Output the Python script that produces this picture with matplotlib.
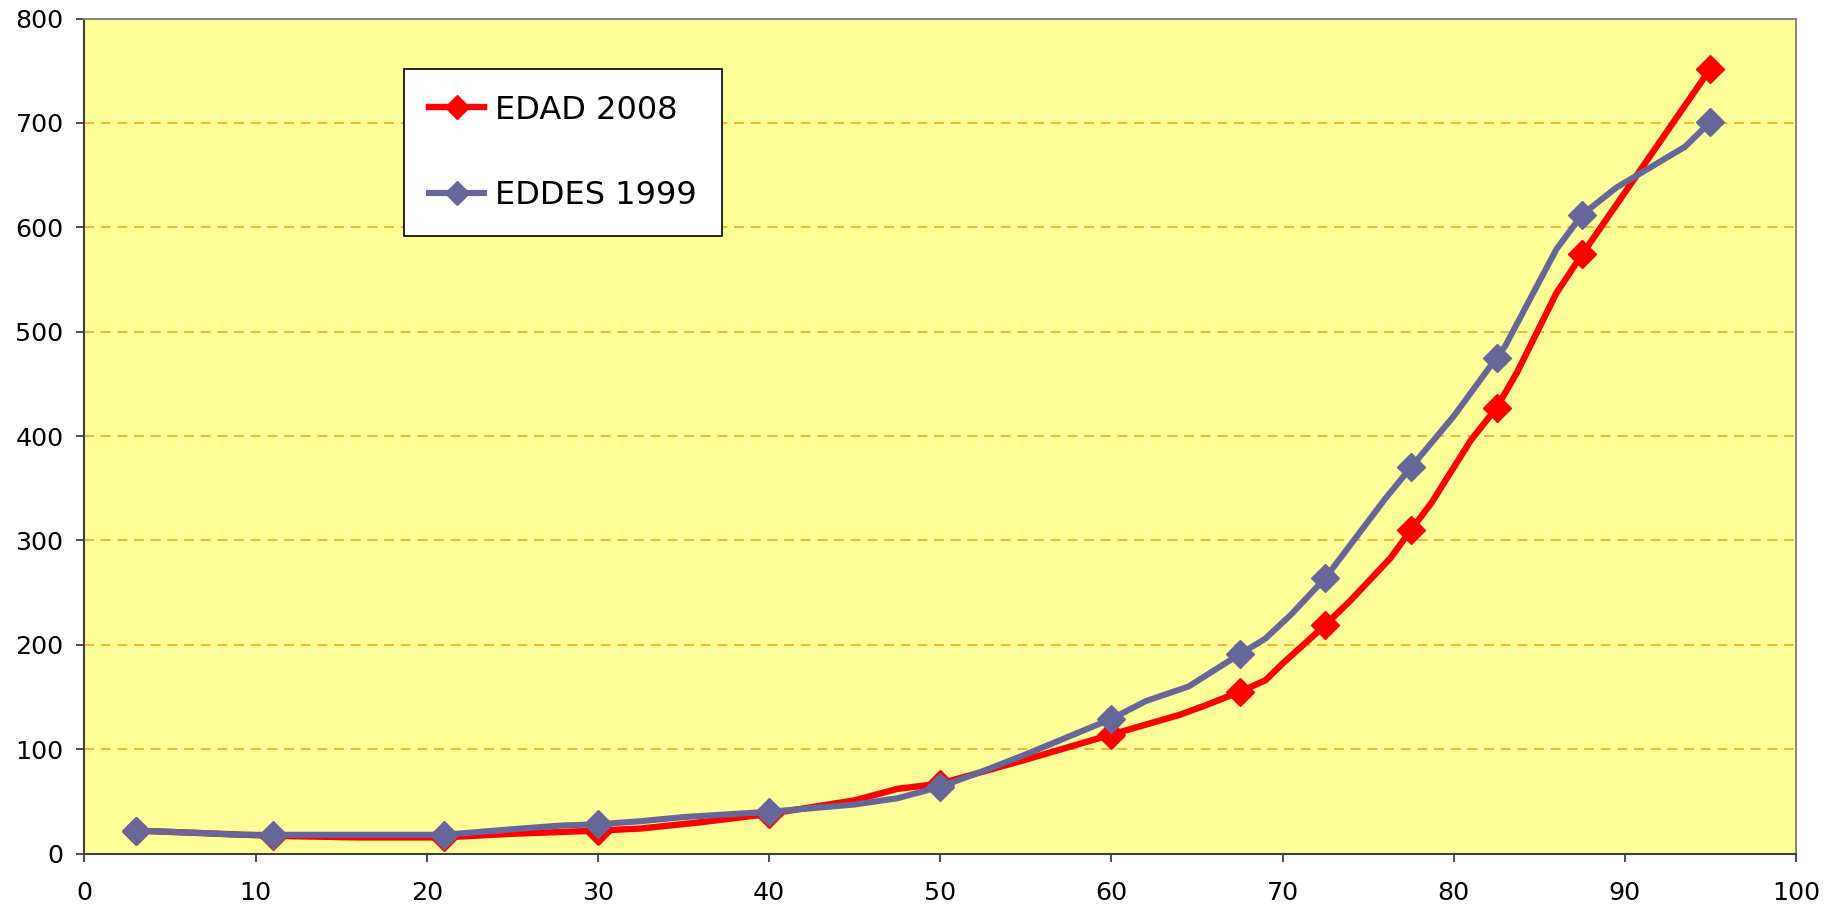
import matplotlib
matplotlib.use('Agg')
import matplotlib.pyplot as plt

# EDAD 2008 (red)
age_edad = [3, 11, 16, 21, 25, 30, 32.5, 36, 40, 45, 47.5, 50, 55, 60, 64, 65.5,
            67.5, 69, 70, 72.5, 74, 76.3, 77.5, 78.7, 81, 82.5, 83.7, 86, 87.5, 95]
val_edad = [22, 17, 15.5, 15.5, 19, 22, 24, 30, 38, 51, 62, 67, 90, 114, 133, 142,
            155, 166, 182, 219, 243, 283, 310, 336, 396, 427, 461, 537, 574, 752]

# EDDES 1999 (blue)
age_eddes = [3, 6.5, 9, 11, 21, 25.5, 28, 30, 32.5, 35, 40, 45, 47.5, 50, 52.5, 55,
             57.5, 60, 62, 64.5, 67.5, 69, 70.5, 72.5, 76, 77.5, 80, 82.5, 83, 86,
             87.5, 89.5, 93.5, 95]
val_eddes = [22, 20, 18, 18, 18, 24, 27, 28, 31, 35, 40, 47, 53, 64, 79, 95,
             112, 129, 146, 160, 191, 206, 229, 264, 340, 370, 419, 475, 486, 579,
             612, 638, 677, 701]

# ages that carry a marker
marked_ages = [3, 11, 21, 30, 40, 50, 60, 67.5, 72.5, 77.5, 82.5, 87.5, 95]

x_ticks = [0, 10, 20, 30, 40, 50, 60, 70, 80, 90, 100]
y_ticks = [0, 100, 200, 300, 400, 500, 600, 700, 800]

fig = plt.figure(figsize=(18.26, 9.07), dpi=100)
ax = fig.add_axes([0.0462, 0.0589, 0.9374, 0.9207])
ax.set_facecolor('#FFFF99')

ax.plot(age_edad, val_edad, color='#FF0000', lw=4.6, marker='D', ms=14.5,
        markevery=[age_edad.index(a) for a in marked_ages],
        label='EDAD 2008', zorder=3, solid_joinstyle='round')
ax.plot(age_eddes, val_eddes, color='#666699', lw=4.4, marker='D', ms=14.5,
        markevery=[age_eddes.index(a) for a in marked_ages],
        label='EDDES 1999', zorder=4, solid_joinstyle='round')

ax.set_xlim(0, 100)
ax.set_ylim(0, 800)
ax.set_xticks(x_ticks)
ax.set_yticks(y_ticks)
ax.tick_params(axis='both', labelsize=18.3, length=6, width=1.3, color='#404040')
ax.tick_params(axis='x', pad=14)
ax.tick_params(axis='y', pad=9)

for y in y_ticks[1:-1]:
    ax.axhline(y, color='#FFA31A', lw=1.2, ls=(0, (6, 4)), zorder=1)

ax.spines['left'].set_color('#404040')
ax.spines['bottom'].set_color('#404040')
ax.spines['top'].set_color('#888888')
ax.spines['right'].set_color('#888888')
for s in ax.spines.values():
    s.set_linewidth(1.5)

leg = ax.legend(loc='upper left', bbox_to_anchor=(0.1867, 0.9395), fontsize=23,
                frameon=True, fancybox=False, edgecolor='black', framealpha=1,
                borderpad=0.8, labelspacing=1.7, handlelength=1.7,
                handletextpad=0.35, borderaxespad=0)
leg.get_frame().set_linewidth(1.2)
for h in leg.legend_handles:
    h.set_markersize(12)

fig.savefig('out.png', dpi=100)
